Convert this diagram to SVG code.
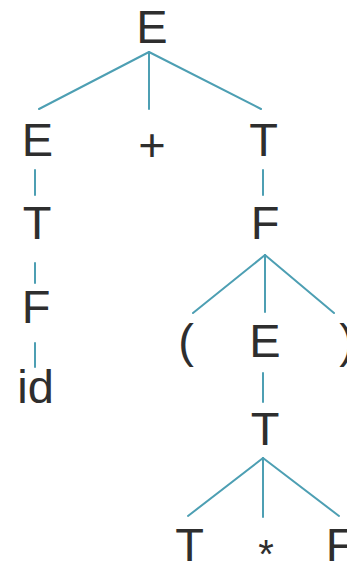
<svg xmlns="http://www.w3.org/2000/svg" width="347" height="562" viewBox="0 0 347 562">
<style>
text{font-family:"Liberation Sans",Arial,sans-serif;font-size:47px;fill:#2e2e2e;text-anchor:middle}
.e{stroke:#4d9fb3;stroke-width:2;fill:none;stroke-linecap:round}
</style>
<rect width="347" height="562" fill="#ffffff"/>
<g id="connectors">
<line class="e" x1="149" y1="52" x2="39" y2="109"/>
<line class="e" x1="149" y1="52" x2="149" y2="109"/>
<line class="e" x1="149" y1="52" x2="261" y2="109"/>
<line class="e" x1="35" y1="170" x2="35" y2="195"/>
<line class="e" x1="35" y1="263" x2="35" y2="283"/>
<line class="e" x1="35" y1="343" x2="35" y2="367"/>
<line class="e" x1="263" y1="170" x2="263" y2="195"/>
<line class="e" x1="265" y1="255" x2="193" y2="313"/>
<line class="e" x1="265" y1="255" x2="265" y2="312"/>
<line class="e" x1="265" y1="255" x2="334" y2="313"/>
<line class="e" x1="263" y1="373" x2="263" y2="402"/>
<line class="e" x1="263" y1="458" x2="188" y2="516"/>
<line class="e" x1="263" y1="458" x2="263" y2="517"/>
<line class="e" x1="263" y1="458" x2="339" y2="516"/>
</g>
<g id="n-E-root"><text x="152" y="43">E</text></g>
<g id="n-E-left"><text x="37.5" y="156">E</text></g>
<g id="n-plus"><text x="152" y="161">+</text></g>
<g id="n-T-right"><text x="263.5" y="156">T</text></g>
<g id="n-T-left"><text x="37" y="239">T</text></g>
<g id="n-F-right"><text x="265" y="239">F</text></g>
<g id="n-F-left"><text x="36" y="323">F</text></g>
<g id="n-id"><text x="35.5" y="403">id</text></g>
<g id="n-lparen"><text x="186" y="357">(</text></g>
<g id="n-E-mid"><text x="265" y="357">E</text></g>
<g id="n-rparen"><text x="347" y="357">)</text></g>
<g id="n-T-mid"><text x="265" y="445">T</text></g>
<g id="n-T-bottom"><text x="189.5" y="561">T</text></g>
<g id="n-star"><text x="266" y="568" style="font-size:40px">*</text></g>
<g id="n-F-bottom"><text x="340" y="561">F</text></g>
</svg>
